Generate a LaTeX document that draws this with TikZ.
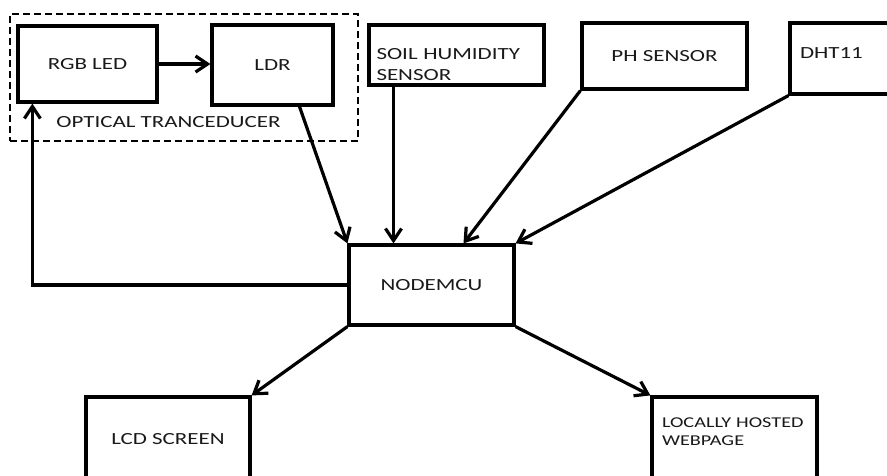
\documentclass[tikz,border=0pt]{standalone}
\usepackage{fontspec}
\setmainfont{Carlito}[FakeStretch=1.35]
\usetikzlibrary{arrows.meta,positioning}

\begin{document}
\begin{tikzpicture}[x=1pt, y=-1pt, line width=3.2pt,
    box/.style = {shape=rectangle, draw, align=center, inner sep=0pt,
      text=black!90, font=\fontsize{17}{21}\selectfont},
    txt/.style = {inner sep=0pt, text=black!90, font=\fontsize{17}{21}\selectfont},
    >={Straight Barb[length=12pt,width=16pt]}]
  \clip (0,0) rectangle (887,475);
  % optical part
  \node[draw, dashed, line width=2.2pt, dash pattern=on 7pt off 4pt,
    minimum width=348pt, minimum height=127pt] (optic) at (184,77.5) {};
  \node[box, minimum width=139pt, minimum height=76pt] (rgb) at (87.5,64) {RGB LED};
  \node[box, minimum width=121pt, minimum height=80pt] (ldr) at (272.5,65) {LDR};
  \node[txt] (opticlabel) at (168.5,122) {OPTICAL TRANCEDUCER};
  % sensors
  \node[box, minimum width=175pt, minimum height=60pt, text width=160pt,
    align=left, text height=30pt] (soil) at (456.5,55) {SOIL HUMIDITY\\SENSOR};
  \node[box, minimum width=165pt, minimum height=66pt] (ph) at (664.5,56) {PH SENSOR};
  \node[box, minimum width=140pt, minimum height=71pt, text width=120pt,
    align=left, text depth=10pt] (dht) at (860,58.5) {DHT11};
  % controller and outputs
  \node[box, minimum width=165pt, minimum height=80pt] (mcu) at (431.5,285) {NODEMCU};
  \node[box, minimum width=164pt, minimum height=84pt] (lcd) at (168,439) {LCD SCREEN};
  \node[box, minimum width=165pt, minimum height=84pt, text width=145pt,
    align=left, text depth=32pt, font=\fontsize{15}{18}\selectfont] (web) at (734.5,439)
    {LOCALLY HOSTED\\WEBPAGE};

  \draw[->] (rgb.east) -- (rgb.east -| ldr.west);
  \draw[->] (mcu.west) -| ([xshift=16pt]rgb.south west);
  \draw[->] ([xshift=27pt]ldr.south) -- (mcu.north west);
  \draw[->] ([xshift=-63pt]soil.south) -- ([xshift=-63pt]soil.south |- mcu.north);
  \draw[->] (ph.south west) -- ([xshift=32pt]mcu.north);
  \draw[->] (dht.south west) -- (mcu.north east);
  \draw[->] (mcu.south west) -- (lcd.north east);
  \draw[->] (mcu.south east) -- (web.north west);
\end{tikzpicture}
\end{document}
